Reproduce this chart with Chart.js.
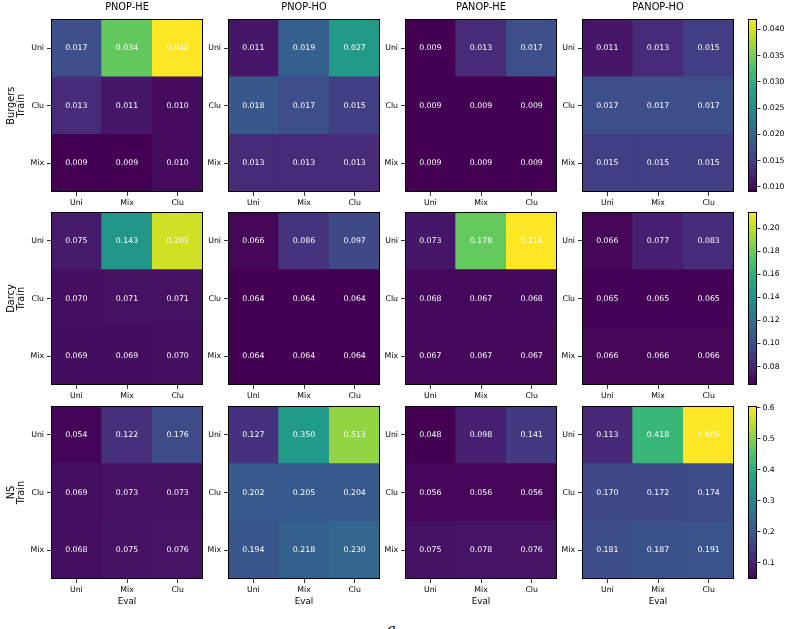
<!DOCTYPE html>
<html>
<head>
<meta charset="utf-8">
<script src="https://cdn.jsdelivr.net/npm/chart.js@4.4.1/dist/chart.umd.min.js"></script>
<style>
  html, body { margin: 0; padding: 0; background: #fff; overflow: hidden; }
  body { width: 790px; height: 629px; position: relative; }
  canvas { position: absolute; }
  .cap { position: absolute; left: 387px; top: 620px; font: italic 15px "DejaVu Serif", serif; color: #000; }
</style>
</head>
<body>
<div class="cap">a</div>
<script>
// labels
const models = ['PNOP-HE', 'PNOP-HO', 'PANOP-HE', 'PANOP-HO'];
const trainSets = ['Burgers', 'Darcy', 'NS'];
const evalLabels = ['Uni', 'Mix', 'Clu'];
const trainLabels = ['Uni', 'Clu', 'Mix'];   // top to bottom

// errors, rows = train (Uni, Clu, Mix), cols = eval (Uni, Mix, Clu)
const burgersPnopHe  = [[0.017, 0.034, 0.042], [0.013, 0.011, 0.010], [0.009, 0.009, 0.010]];
const burgersPnopHo  = [[0.011, 0.019, 0.027], [0.018, 0.017, 0.015], [0.013, 0.013, 0.013]];
const burgersPanopHe = [[0.009, 0.013, 0.017], [0.009, 0.009, 0.009], [0.009, 0.009, 0.009]];
const burgersPanopHo = [[0.011, 0.013, 0.015], [0.017, 0.017, 0.017], [0.015, 0.015, 0.015]];

const darcyPnopHe  = [[0.075, 0.143, 0.203], [0.070, 0.071, 0.071], [0.069, 0.069, 0.070]];
const darcyPnopHo  = [[0.066, 0.086, 0.097], [0.064, 0.064, 0.064], [0.064, 0.064, 0.064]];
const darcyPanopHe = [[0.073, 0.178, 0.214], [0.068, 0.067, 0.068], [0.067, 0.067, 0.067]];
const darcyPanopHo = [[0.066, 0.077, 0.083], [0.065, 0.065, 0.065], [0.066, 0.066, 0.066]];

const nsPnopHe  = [[0.054, 0.122, 0.176], [0.069, 0.073, 0.073], [0.068, 0.075, 0.076]];
const nsPnopHo  = [[0.127, 0.350, 0.513], [0.202, 0.205, 0.204], [0.194, 0.218, 0.230]];
const nsPanopHe = [[0.048, 0.098, 0.141], [0.056, 0.056, 0.056], [0.075, 0.078, 0.076]];
const nsPanopHo = [[0.113, 0.418, 0.605], [0.170, 0.172, 0.174], [0.181, 0.187, 0.191]];

// colorbar ticks
const cbTicksBurgers = [0.010, 0.015, 0.020, 0.025, 0.030, 0.035, 0.040];
const cbTicksDarcy = [0.08, 0.10, 0.12, 0.14, 0.16, 0.18, 0.20];
const cbTicksNs = [0.1, 0.2, 0.3, 0.4, 0.5, 0.6];

const rows = [
  [burgersPnopHe, burgersPnopHo, burgersPanopHe, burgersPanopHo],
  [darcyPnopHe, darcyPnopHo, darcyPanopHe, darcyPanopHo],
  [nsPnopHe, nsPnopHo, nsPanopHe, nsPanopHo]
];
const cbTicks = [cbTicksBurgers, cbTicksDarcy, cbTicksNs];
const cbDecimals = [3, 2, 1];

// layout
const colLeft = [51, 228, 405, 582];
const rowTop = [19, 212, 406];
const panelW = 152, panelH = 173;
const topSpace = 19, bottomSpace = 40;
const F = '"DejaVu Sans", sans-serif';

// viridis
const viridisStops = [[68,1,84],[72,36,117],[65,68,135],[53,95,141],[42,120,142],[33,145,140],
  [34,168,132],[68,191,112],[122,209,81],[189,223,38],[253,231,37]];
function viridis(t) {
  t = Math.max(0, Math.min(1, t));
  const s = t * 10, i = Math.min(9, Math.floor(s)), f = s - i;
  const a = viridisStops[i], b = viridisStops[i + 1];
  const c = a.map((v, k) => Math.round(v + (b[k] - v) * f));
  return 'rgb(' + c.join(',') + ')';
}

function addCanvas(left, top, w, h) {
  const cv = document.createElement('canvas');
  cv.width = w; cv.height = h;
  cv.style.left = left + 'px'; cv.style.top = top + 'px';
  cv.style.width = w + 'px'; cv.style.height = h + 'px';
  document.body.appendChild(cv);
  return cv;
}

// cell values + frame
const cellPlugin = {
  id: 'cells',
  afterDatasetsDraw(chart) {
    const ctx = chart.ctx, a = chart.chartArea;
    ctx.save();
    ctx.font = '7.8px ' + F;
    ctx.fillStyle = '#fff';
    ctx.textAlign = 'center';
    ctx.textBaseline = 'middle';
    chart.data.datasets.forEach((ds, di) => {
      chart.getDatasetMeta(di).data.forEach((bar, j) => {
        const p = bar.getCenterPoint();
        ctx.fillText(ds.values[j].toFixed(3), p.x, p.y);
      });
    });
    ctx.strokeStyle = '#000';
    ctx.lineWidth = 1;
    ctx.strokeRect(Math.round(a.left) + 0.5, Math.round(a.top) + 0.5, Math.round(a.width) - 1, Math.round(a.height) - 1);
    ctx.restore();
  }
};

const tickGrid = { display: true, offset: false, drawOnChartArea: false, tickLength: 4, color: '#000', lineWidth: 0.8 };

function makePanel(r, c) {
  const grid = rows[r][c];
  const all = rows[r].flat(2);
  const lo = Math.min(...all), hi = Math.max(...all);
  const axisW = c === 0 ? colLeft[0] : 40;
  const cv = addCanvas(colLeft[c] - axisW, rowTop[r] - topSpace, axisW + panelW + 2, topSpace + panelH + bottomSpace);
  const datasets = [2, 1, 0].map(i => ({
    label: trainLabels[i],
    data: evalLabels.map(() => 1),
    values: grid[i],
    backgroundColor: grid[i].map(v => viridis((v - lo) / (hi - lo))),
    borderWidth: 0,
    barPercentage: 1,
    categoryPercentage: 1
  }));
  new Chart(cv, {
    type: 'bar',
    data: { labels: evalLabels, datasets: datasets },
    options: {
      responsive: false,
      animation: false,
      layout: { padding: { top: r === 0 ? 0 : topSpace, right: 2 } },
      plugins: {
        legend: { display: false },
        tooltip: { enabled: false },
        title: {
          display: r === 0, text: models[c], fullSize: false, color: '#000',
          font: { size: 9.8, family: F, weight: 'normal' }, padding: { top: 2, bottom: 5.5 }
        }
      },
      scales: {
        x: {
          stacked: true,
          grid: tickGrid,
          border: { display: false },
          ticks: { color: '#000', font: { size: 7.8, family: F }, padding: 2, maxRotation: 0 },
          title: { display: r === 2, text: 'Eval', color: '#000', font: { size: 8.8, family: F }, padding: { top: 0, bottom: 12 } },
          afterFit: s => { s.height = bottomSpace; }
        },
        y: {
          stacked: true, min: 0, max: 3,
          afterBuildTicks: s => { s.ticks = [0.5, 1.5, 2.5].map(v => ({ value: v })); },
          grid: tickGrid,
          border: { display: false },
          ticks: { color: '#000', font: { size: 7.8, family: F }, padding: 3, callback: v => trainLabels[2 - Math.floor(v)] },
          title: {
            display: c === 0, text: [trainSets[r], 'Train'], color: '#000',
            font: { size: 9.8, family: F, lineHeight: 1.0 }, padding: { top: 7, bottom: 0 }
          },
          afterFit: s => { s.width = axisW; }
        }
      }
    },
    plugins: [cellPlugin]
  });
}

function makeColorbar(r) {
  const all = rows[r].flat(2);
  const lo = Math.min(...all), hi = Math.max(...all);
  const cbW = 9, axisW = 40;
  const cv = addCanvas(748, rowTop[r] - topSpace, cbW + axisW, topSpace + panelH + bottomSpace);
  new Chart(cv, {
    type: 'bar',
    data: {
      labels: [''],
      datasets: [{
        data: [[lo, hi]],
        borderWidth: 0,
        barPercentage: 1,
        categoryPercentage: 1,
        backgroundColor: ctx => {
          const a = ctx.chart.chartArea;
          if (!a) return null;
          const g = ctx.chart.ctx.createLinearGradient(0, a.bottom, 0, a.top);
          viridisStops.forEach((s, i) => g.addColorStop(i / 10, 'rgb(' + s.join(',') + ')'));
          return g;
        }
      }]
    },
    options: {
      responsive: false,
      animation: false,
      layout: { padding: { top: topSpace, bottom: bottomSpace } },
      plugins: { legend: { display: false }, tooltip: { enabled: false } },
      scales: {
        x: { display: false },
        y: {
          position: 'right', min: lo, max: hi,
          afterBuildTicks: s => { s.ticks = cbTicks[r].map(v => ({ value: v })); },
          grid: { display: true, drawOnChartArea: false, tickLength: 3.5, color: '#000', lineWidth: 0.8 },
          border: { display: false },
          ticks: { color: '#000', font: { size: 7.7, family: F }, padding: 2, callback: v => v.toFixed(cbDecimals[r]) },
          afterFit: s => { s.width = axisW; }
        }
      }
    },
    plugins: [{
      id: 'frame',
      afterDatasetsDraw(chart) {
        const ctx = chart.ctx, a = chart.chartArea;
        ctx.save();
        ctx.strokeStyle = '#000';
        ctx.lineWidth = 1;
        ctx.strokeRect(Math.round(a.left) + 0.5, Math.round(a.top) + 0.5, Math.round(a.width) - 1, Math.round(a.height) - 1);
        ctx.restore();
      }
    }]
  });
}

for (let r = 0; r < 3; r++) {
  for (let c = 0; c < 4; c++) makePanel(r, c);
  makeColorbar(r);
}
</script>
</body>
</html>
